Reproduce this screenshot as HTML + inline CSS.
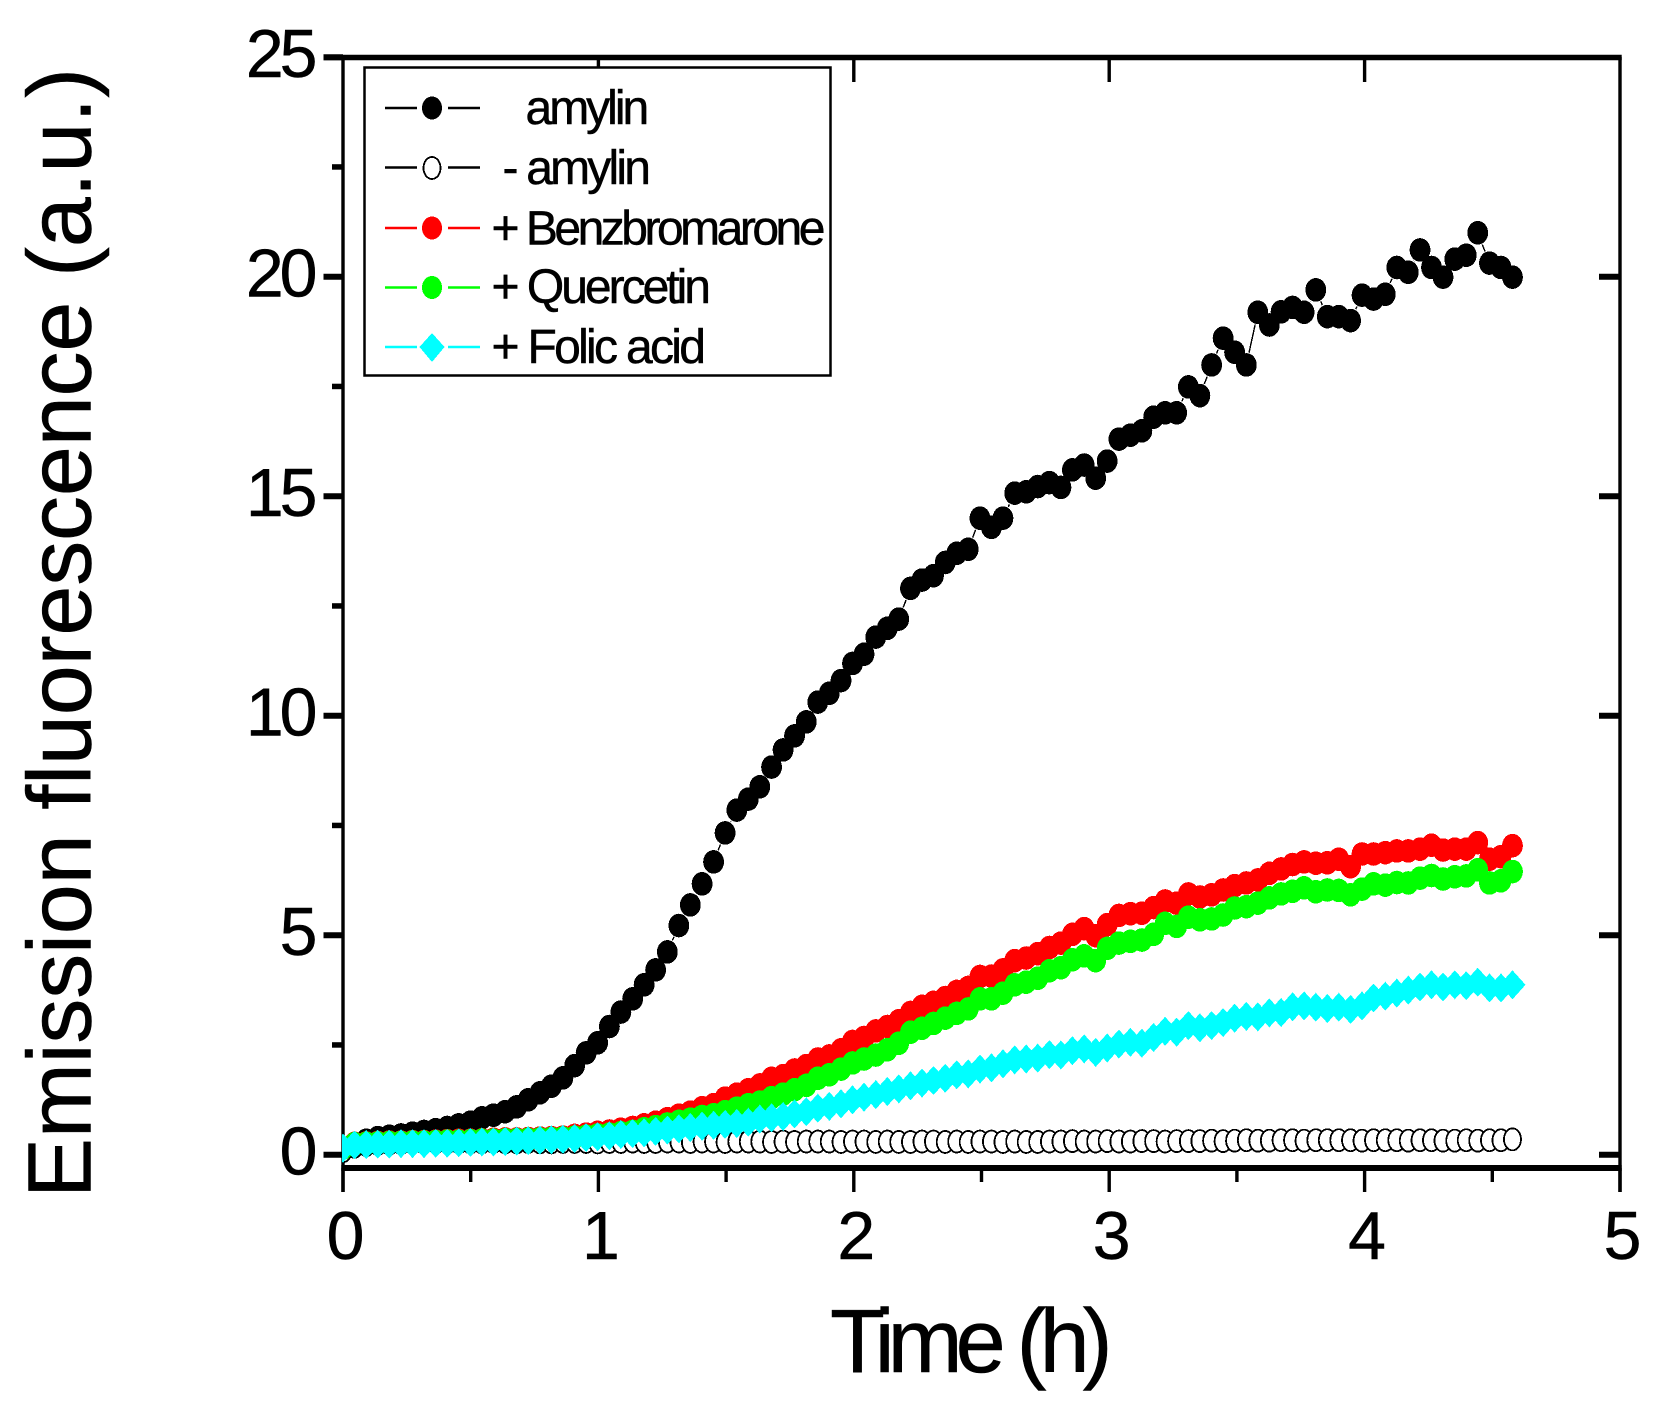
<!DOCTYPE html>
<html lang="en">
<head>
<meta charset="utf-8">
<title>Emission fluorescence vs time</title>
<style>
html,body{margin:0;padding:0;background:#fff;}
svg{display:block;}
text{font-family:"Liberation Sans",Arial,sans-serif;fill:#000;stroke:#000;stroke-width:0.5px;}
#series *,.crisp{shape-rendering:crispEdges;}
</style>
</head>
<body>
<svg id="chart" xmlns="http://www.w3.org/2000/svg" width="1656" height="1417" viewBox="0 0 1656 1417">
<defs><clipPath id="plot-clip"><rect x="342" y="40" width="1290" height="1130"/></clipPath></defs>
<rect x="0" y="0" width="1656" height="1417" fill="#fff"/>
<g id="axes"></g>
<g id="series" clip-path="url(#plot-clip)"></g>
<text transform="translate(90.5,1198) rotate(-90)" font-size="90" letter-spacing="-0.2">Emission fluorescence (a.u.)</text>
<text x="830" y="1372" font-size="90" letter-spacing="-7">Time (h)</text>
<g>
<rect x="364.5" y="67.5" width="466" height="308" fill="#fff" stroke="#000" stroke-width="2.5"/>
<g>
<path d="M385 108H417M448 108H480" stroke="#000" stroke-width="2.5" fill="none"/>
<ellipse class="crisp" cx="432" cy="108" rx="10" ry="11.5" fill="#000"/>
<text x="525.5" y="124" font-size="48" letter-spacing="-3">amylin</text>
</g>
<g>
<path d="M385 167.500H417M448 167.500H480" stroke="#000" stroke-width="2.500" fill="none"/>
<ellipse class="crisp" cx="432" cy="168" rx="8.500" ry="11" fill="#fff" stroke="#000" stroke-width="1.800"/>
<text x="502.500" y="184" font-size="48" letter-spacing="-2.800">- amylin</text>
</g>
<g>
<path d="M385 228H417M448 228H480" stroke="#f00" stroke-width="2.500" fill="none"/>
<ellipse class="crisp" cx="432" cy="228" rx="10" ry="11.500" fill="#f00"/>
<text x="491.500" y="244.500" font-size="48" letter-spacing="-3.500">+ Benzbromarone</text>
</g>
<g>
<path d="M385 287.500H417M448 287.500H480" stroke="#0f0" stroke-width="2.500" fill="none"/>
<ellipse class="crisp" cx="432" cy="287.500" rx="10" ry="11.500" fill="#0f0"/>
<text x="491.500" y="303" font-size="48" letter-spacing="-3">+ Quercetin</text>
</g>
<g>
<path d="M385 347H417M448 347H480" stroke="#0ff" stroke-width="2.500" fill="none"/>
<polygon class="crisp" points="432,333 444.500,347 432,362 419.500,347" fill="#0ff"/>
<text x="491.500" y="363" font-size="48" letter-spacing="-2.700">+ Folic acid</text>
</g>
</g>
</svg>
<script>
const timeHours = [0,.045,.091,.136,.181,.227,.272,.317,.363,.408,.453,.499,.544,.589,.635,.680,.725,.771,.816,.861,.907,.952,.997,1.043,1.088,1.134,1.179,1.224,1.270,1.315,1.360,1.406,1.451,1.496,1.542,1.587,1.632,1.678,1.723,1.768,1.814,1.859,1.904,1.950,1.995,2.040,2.086,2.131,2.176,2.222,2.267,2.312,2.358,2.403,2.448,2.494,2.539,2.584,2.630,2.675,2.720,2.766,2.811,2.856,2.902,2.947,2.992,3.038,3.083,3.128,3.174,3.219,3.264,3.310,3.355,3.401,3.446,3.491,3.537,3.582,3.627,3.673,3.718,3.763,3.809,3.854,3.899,3.945,3.990,4.035,4.081,4.126,4.171,4.217,4.262,4.307,4.353,4.398,4.443,4.489,4.534,4.579];
const amylinValues = [.15,.26,.33,.39,.42,.45,.49,.53,.57,.62,.68,.74,.84,.90,.98,1.09,1.25,1.41,1.56,1.75,2.03,2.32,2.55,2.92,3.25,3.55,3.87,4.21,4.62,5.22,5.69,6.17,6.67,7.33,7.85,8.10,8.38,8.83,9.22,9.54,9.86,10.31,10.51,10.80,11.19,11.40,11.79,11.99,12.20,12.90,13.09,13.19,13.49,13.70,13.79,14.50,14.29,14.50,15.07,15.10,15.22,15.31,15.20,15.60,15.71,15.41,15.80,16.30,16.39,16.49,16.80,16.90,16.90,17.49,17.29,17.99,18.60,18.28,17.99,19.19,18.90,19.20,19.30,19.19,19.70,19.09,19.09,19.00,19.58,19.49,19.60,20.21,20.10,20.61,20.21,19.99,20.40,20.49,21.00,20.31,20.21,19.99];
const noAmylinValues = [.08,.18,.22,.24,.25,.26,.27,.27,.28,.28,.28,.28,.28,.29,.28,.28,.29,.28,.28,.29,.29,.29,.28,.29,.29,.30,.29,.29,.30,.30,.29,.30,.30,.29,.30,.30,.30,.29,.30,.29,.30,.30,.30,.29,.30,.30,.29,.30,.29,.29,.30,.30,.29,.30,.29,.30,.30,.29,.30,.29,.29,.30,.30,.31,.30,.30,.31,.30,.30,.31,.31,.30,.31,.31,.31,.32,.31,.32,.33,.32,.32,.33,.33,.32,.33,.33,.33,.33,.32,.33,.33,.33,.32,.33,.33,.32,.32,.33,.32,.33,.33,.35];
const benzbromaroneValues = [.16,.26,.27,.28,.29,.29,.30,.30,.31,.32,.33,.33,.34,.35,.36,.36,.37,.38,.39,.40,.44,.47,.51,.54,.58,.62,.68,.74,.82,.90,.97,1.07,1.14,1.29,1.38,1.48,1.59,1.74,1.80,1.93,2.03,2.18,2.25,2.39,2.58,2.67,2.82,2.92,3.05,3.24,3.38,3.47,3.58,3.72,3.81,4.06,4.07,4.21,4.42,4.48,4.58,4.72,4.82,5.02,5.15,4.99,5.24,5.45,5.49,5.50,5.63,5.78,5.73,5.94,5.87,5.92,6.03,6.13,6.19,6.26,6.41,6.51,6.61,6.67,6.64,6.65,6.73,6.56,6.85,6.85,6.88,6.92,6.92,6.96,7.05,6.94,6.96,6.96,7.11,6.73,6.79,7.04];
const quercetinValues = [.15,.25,.26,.27,.28,.28,.29,.29,.30,.31,.31,.32,.33,.33,.34,.34,.35,.36,.37,.38,.40,.42,.45,.47,.50,.53,.59,.64,.70,.76,.81,.87,.91,.98,1.06,1.14,1.20,1.30,1.38,1.48,1.58,1.74,1.82,1.95,2.09,2.18,2.27,2.39,2.54,2.79,2.88,2.99,3.11,3.22,3.32,3.55,3.55,3.68,3.87,3.93,4.02,4.19,4.26,4.44,4.53,4.42,4.70,4.82,4.86,4.89,5.02,5.27,5.20,5.41,5.35,5.37,5.46,5.62,5.65,5.73,5.85,5.94,6.00,6.08,5.99,6.03,6.02,5.92,6.05,6.17,6.14,6.20,6.19,6.30,6.36,6.28,6.33,6.35,6.49,6.19,6.24,6.45];
const folicAcidValues = [.15,.22,.23,.24,.24,.25,.25,.25,.26,.26,.27,.28,.29,.29,.30,.31,.32,.33,.34,.35,.37,.39,.41,.43,.46,.48,.50,.53,.56,.59,.62,.65,.67,.69,.71,.74,.81,.84,.87,.93,.98,1.06,1.10,1.16,1.25,1.31,1.37,1.44,1.50,1.57,1.63,1.69,1.74,1.82,1.84,1.95,1.98,2.07,2.16,2.18,2.20,2.28,2.27,2.37,2.41,2.33,2.43,2.52,2.56,2.54,2.67,2.81,2.79,2.94,2.89,2.94,3.01,3.11,3.15,3.14,3.23,3.24,3.37,3.39,3.36,3.33,3.36,3.31,3.39,3.57,3.61,3.68,3.75,3.82,3.87,3.82,3.87,3.85,3.93,3.80,3.80,3.87];
const xMajorTicks = [0,1,2,3,4,5];
const xMinorTicks = [0.5,1.5,2.5,3.5,4.5];
const yMajorTicks = [0,5,10,15,20,25];
const yMinorTicks = [2.5,7.5,12.5,17.5,22.5];

const NS = 'http://www.w3.org/2000/svg';
const X0 = 343, XPERH = 255.4, Y0 = 1154.7, YPERU = 43.9, LINE_GAP = 12.5;
const xAt = t => X0 + XPERH * t;
const yAt = v => Y0 - YPERU * v;
const axes = document.getElementById('axes');
const seriesLayer = document.getElementById('series');

function make(tag, parent, attrs) {
  const el = document.createElementNS(NS, tag);
  for (const k in attrs) el.setAttribute(k, attrs[k]);
  parent.appendChild(el);
  return el;
}
function rule(x1, y1, x2, y2, w) {
  return make('line', axes, {x1: x1, y1: y1, x2: x2, y2: y2, stroke: '#000', 'stroke-width': w});
}

let ln;
ln = rule(xAt(0), 57, xAt(0), 1192, 3.4);


ln = rule(xAt(5), 57, xAt(5), 1192, 3.4);


ln = rule(323.5, 57.5, xAt(5) + 1.7, 57.5, 5.5);


ln = rule(xAt(0) - 1.7, 1168, xAt(5) + 1.7, 1168, 6);



xMajorTicks.forEach(t => {
  const tick = rule(xAt(t), 1168, xAt(t), 1192, 3.4);
  
  
  if (t > 0 && t < 5) {
    const topTick = rule(xAt(t), 57, xAt(t), 82, 3.4);
    
    
  }
  const label = make('text', axes, {x: xAt(t) + 2.5, y: 1259, 'font-size': 68, 'text-anchor': 'middle'});
  
  
  label.textContent = String(t);
});
xMinorTicks.forEach(t => {
  const tick = rule(xAt(t), 1168, xAt(t), 1182, 3.4);
  
  
});
yMajorTicks.forEach(v => {
  const tick = rule(323.5, yAt(v), xAt(0), yAt(v), 6);
  
  
  if (v < 25) {
    const rightTick = rule(1599, yAt(v), xAt(5), yAt(v), 6);
    
    
  }
  const label = make('text', axes, {x: 313.5, y: yAt(v) + 20, 'font-size': 68, 'text-anchor': 'end', 'letter-spacing': -4});
  
  
  label.textContent = String(v);
});
yMinorTicks.forEach(v => {
  const tick = rule(332, yAt(v), xAt(0), yAt(v), 5.5);
  
  
});

function drawSeries(name, values, color, marker) {
  const g = make('g', seriesLayer, {});
  
  
  const lineColor = marker === 'open' ? '#000' : color;
  values.forEach((v, i) => {
    if (i === 0) return;
    const ax = xAt(timeHours[i - 1]), ay = yAt(values[i - 1]);
    const bx = xAt(timeHours[i]), by = yAt(v);
    const len = Math.hypot(bx - ax, by - ay);
    if (len <= LINE_GAP * 2) return;
    const ux = (bx - ax) / len, uy = (by - ay) / len;
    make('line', g, {x1: ax + ux * LINE_GAP, y1: ay + uy * LINE_GAP, x2: bx - ux * LINE_GAP, y2: by - uy * LINE_GAP, stroke: lineColor, 'stroke-width': 1.4});
  });
  values.forEach((v, i) => {
    const cx = xAt(timeHours[i]), cy = yAt(v);
    if (marker === 'filled') {
      make('ellipse', g, {cx: cx, cy: cy, rx: 10.4, ry: 11.8, fill: color});
    } else if (marker === 'open') {
      make('ellipse', g, {cx: cx, cy: cy, rx: 8.5, ry: 11, fill: '#fff', stroke: '#000', 'stroke-width': 1.8});
    } else {
      const d = [[0, -14.5], [13, 0], [0, 14.5], [-13, 0]].map(o => (cx + o[0]).toFixed(1) + ',' + (cy + o[1]).toFixed(1)).join(' ');
      make('polygon', g, {points: d, fill: color});
    }
  });
}
drawSeries('series-amylin', amylinValues, '#000', 'filled');
drawSeries('series-minus-amylin', noAmylinValues, '#000', 'open');
drawSeries('series-benzbromarone', benzbromaroneValues, '#f00', 'filled');
drawSeries('series-quercetin', quercetinValues, '#0f0', 'filled');
drawSeries('series-folic-acid', folicAcidValues, '#0ff', 'diamond');
</script>
</body>
</html>
